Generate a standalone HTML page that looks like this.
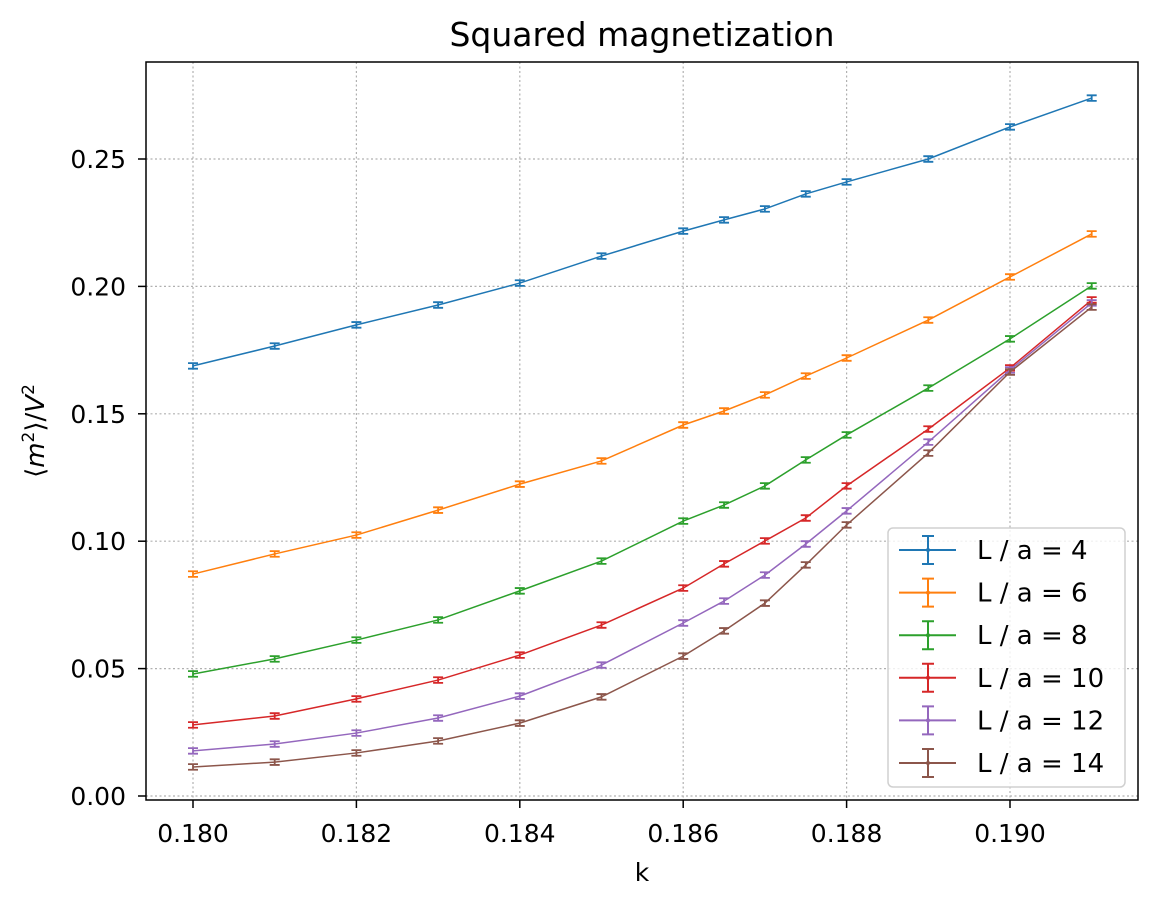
<!DOCTYPE html>
<html><head><meta charset="utf-8"><style>
body{margin:0;background:#fff}
svg text{font-family:"DejaVu Sans","Liberation Sans",sans-serif;fill:#000}
</style></head><body>
<svg id="chart" width="1161" height="908" xmlns="http://www.w3.org/2000/svg">
<rect width="1161" height="908" fill="#fff"/>
<g id="grid"></g>
<g id="series"></g>
<rect x="146" y="62" width="992" height="738" fill="none" stroke="#000" stroke-width="1.5"/>
<g id="axes"></g>
<text x="642" y="46" font-size="33" text-anchor="middle">Squared magnetization</text>
<text x="642" y="881" font-size="25" text-anchor="middle">k</text>
<text transform="translate(44,431) rotate(-90)" font-size="26" text-anchor="middle">⟨<tspan font-style="italic">m</tspan><tspan font-size="17" dy="-10">2</tspan><tspan dy="10">⟩/</tspan><tspan font-style="italic">V</tspan><tspan font-size="17" dy="-10">2</tspan></text>
<g id="legend"></g>
</svg>
<script>
const kValues=[0.180,0.181,0.182,0.183,0.184,0.185,0.186,0.1865,0.187,0.1875,0.188,0.189,0.190,0.191];
const seriesLabels=["L / a = 4","L / a = 6","L / a = 8","L / a = 10","L / a = 12","L / a = 14"];
const L4=[0.1688,0.1766,0.1849,0.1927,0.2013,0.2119,0.2217,0.2261,0.2304,0.2363,0.2410,0.2500,0.2626,0.2739];
const L6=[0.0871,0.0950,0.1024,0.1122,0.1224,0.1315,0.1456,0.1511,0.1574,0.1648,0.1719,0.1868,0.2037,0.2206];
const L8=[0.0479,0.0538,0.0612,0.0691,0.0805,0.0922,0.1079,0.1142,0.1217,0.1319,0.1417,0.1601,0.1794,0.2002];
const L10=[0.0279,0.0314,0.0381,0.0455,0.0553,0.0671,0.0816,0.0911,0.1001,0.1091,0.1217,0.1440,0.1680,0.1947];
const L12=[0.0177,0.0204,0.0247,0.0306,0.0392,0.0514,0.0679,0.0765,0.0867,0.0989,0.1119,0.1389,0.1672,0.1935];
const L14=[0.0114,0.0133,0.0169,0.0216,0.0286,0.0389,0.0549,0.0648,0.0757,0.0907,0.1064,0.1346,0.1664,0.1919];
const errValue=0.0011;
const xTicks=[0.180,0.182,0.184,0.186,0.188,0.190];
const xTickLabels=["0.180","0.182","0.184","0.186","0.188","0.190"];
const yTicks=[0,0.05,0.10,0.15,0.20,0.25];
const yTickLabels=["0.00","0.05","0.10","0.15","0.20","0.25"];
const allSeries=[L4,L6,L8,L10,L12,L14];
const colors=["#1f77b4","#ff7f0e","#2ca02c","#d62728","#9467bd","#8c564b"];
const NS="http://www.w3.org/2000/svg";
const X=v=>193+(v-0.180)*81700;
const Y=v=>796-v*2548;
function mk(tag,attrs,parent){const e=document.createElementNS(NS,tag);for(const k in attrs)e.setAttribute(k,attrs[k]);parent.appendChild(e);return e;}
const grid=document.getElementById('grid'),axes=document.getElementById('axes'),ser=document.getElementById('series'),leg=document.getElementById('legend');
xTicks.forEach((t,i)=>{const x=X(t);
 const g=mk('line',{x1:x,x2:x,y1:62,y2:800,stroke:'#b0b0b0','stroke-dasharray':'2,2.5','stroke-width':1.2},grid);
 
 
 const tk=mk('line',{x1:x,x2:x,y1:800,y2:808,stroke:'#000','stroke-width':1.5},axes);
 
 
 const tx=mk('text',{x:x,y:842,'font-size':25,'text-anchor':'middle'},axes);tx.textContent=xTickLabels[i];
 
 
});
yTicks.forEach((t,i)=>{const y=Y(t);
 const g=mk('line',{x1:146,x2:1138,y1:y,y2:y,stroke:'#b0b0b0','stroke-dasharray':'2,2.5','stroke-width':1.2},grid);
 
 
 const tk=mk('line',{x1:138,x2:146,y1:y,y2:y,stroke:'#000','stroke-width':1.5},axes);
 
 
 const tx=mk('text',{x:126,y:y+9,'font-size':25,'text-anchor':'end'},axes);tx.textContent=yTickLabels[i];
 
 
});
allSeries.forEach((s,si)=>{const c=colors[si];
 const g=mk('g',{},ser);
 
 
 const pl=mk('polyline',{points:s.map((v,i)=>X(kValues[i])+','+Y(v)).join(' '),fill:'none',stroke:c,'stroke-width':1.5},g);
 
 
 s.forEach((v,i)=>{const x=X(kValues[i]),y1=Y(v+errValue),y2=Y(v-errValue);
  const e=mk('path',{d:`M${x},${y1}V${y2}M${x-5},${y1}H${x+5}M${x-5},${y2}H${x+5}`,stroke:c,'stroke-width':1.8,fill:'none'},g);
  
  
 });
});
const lb=mk('rect',{x:888,y:528,width:237,height:259,rx:5,fill:'#fff','fill-opacity':0.8,stroke:'#d0d0d0','stroke-width':1.5},leg);


seriesLabels.forEach((lab,i)=>{const y=550+i*42.6,c=colors[i];
 const g=mk('g',{},leg);
 
 
 mk('path',{d:`M899,${y}H956M928,${y-14}V${y+14}M922,${y-14}H934M922,${y+14}H934`,stroke:c,'stroke-width':2,fill:'none'},g);
 mk('circle',{cx:928,cy:y,r:2,fill:c},g);
 const t=mk('text',{x:977,y:y+9,'font-size':26},g);t.textContent=lab;
});
</script>
</body></html>
